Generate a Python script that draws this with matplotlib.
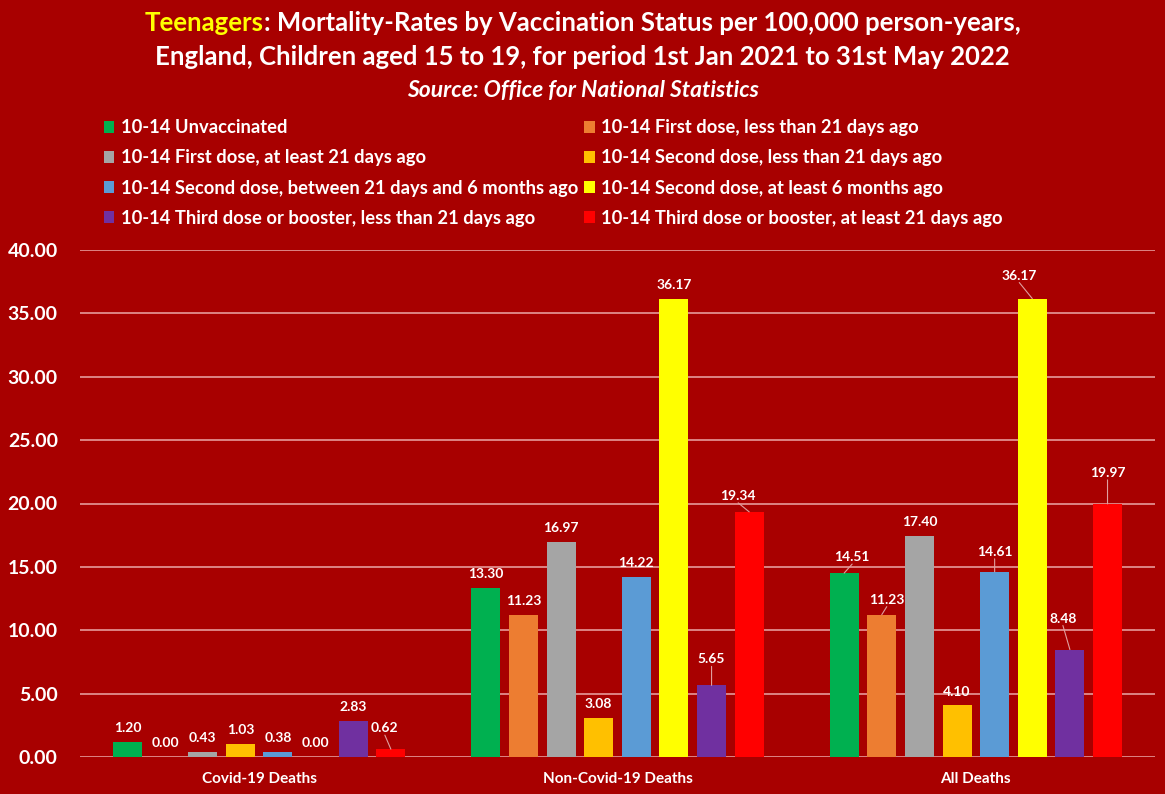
import matplotlib
matplotlib.use("Agg")
import matplotlib.pyplot as plt
import numpy as np

categories = ["Covid-19 Deaths", "Non-Covid-19 Deaths", "All Deaths"]
series_names = [
    "10-14 Unvaccinated",
    "10-14 First dose, less than 21 days ago",
    "10-14 First dose, at least 21 days ago",
    "10-14 Second dose, less than 21 days ago",
    "10-14 Second dose, between 21 days and 6 months ago",
    "10-14 Second dose, at least 6 months ago",
    "10-14 Third dose or booster, less than 21 days ago",
    "10-14 Third dose or booster, at least 21 days ago",
]
unvaccinated = [1.20, 13.30, 14.51]
first_lt21 = [0.00, 11.23, 11.23]
first_ge21 = [0.43, 16.97, 17.40]
second_lt21 = [1.03, 3.08, 4.10]
second_21d_6m = [0.38, 14.22, 14.61]
second_ge6m = [0.00, 36.17, 36.17]
third_lt21 = [2.83, 5.65, 8.48]
third_ge21 = [0.62, 19.34, 19.97]
series_values = [unvaccinated, first_lt21, first_ge21, second_lt21,
                 second_21d_6m, second_ge6m, third_lt21, third_ge21]
colors = ["#00B050", "#ED7D31", "#A5A5A5", "#FFC000",
          "#5B9BD5", "#FFFF00", "#7030A0", "#FF0000"]
yticks = [0, 5, 10, 15, 20, 25, 30, 35, 40]

# label offsets in pixels (dx, dy, leader)
label_offsets = [
    [(0, 14, False), (0, 14, False), (8, 16, True)],
    [(0, 14, False), (0, 14, False), (5, 15, True)],
    [(0, 14, False), (0, 14, False), (0, 14, False)],
    [(0, 14, False), (0, 14, False), (0, 13, False)],
    [(0, 14, False), (0, 14, False), (0, 20, True)],
    [(0, 14, False), (0, 14, False), (-13, 23, True)],
    [(0, 14, False), (0, 26, True), (-7, 31, True)],
    [(-6, 21, True), (-11, 16, True), (0, 31, True)],
]

BG = "#A80000"
FONT = ["Lato", "DejaVu Sans"]
plt.rcParams["font.family"] = FONT

fig = plt.figure(figsize=(11.65, 7.94), dpi=100, facecolor=BG)
ax = fig.add_axes([80/1165, 1-757/794, 1075/1165, (757-250)/794])
ax.set_facecolor(BG)

x = np.arange(len(categories))
spacing = 0.105
width = 0.081
handles = []
for i, (name, vals, c) in enumerate(zip(series_names, series_values, colors)):
    xs = x + (i - 3.5) * spacing
    b = ax.bar(xs, vals, width=width, color=c, label=name, zorder=3)
    handles.append(b)
    for j, (xx, v) in enumerate(zip(xs, vals)):
        dx, dy, leader = label_offsets[i][j]
        ax.annotate(f"{v:.2f}", xy=(xx, v), xytext=(dx, dy),
                    textcoords="offset pixels", ha="center", va="center",
                    color="white", fontsize=10, fontweight="bold", zorder=5)
        if leader:
            ax.annotate("", xy=(xx, v), xytext=(dx, dy - 7),
                        textcoords="offset pixels",
                        arrowprops=dict(arrowstyle="-", color="#E0A0A0", lw=0.8,
                                        shrinkA=0, shrinkB=0), zorder=4)

ax.set_xlim(-0.5, 2.5)
ax.set_ylim(0, 40)
ax.set_yticks(yticks)
ax.set_yticklabels([f"{t:.2f}" for t in yticks], color="white",
                   fontsize=14, fontweight="bold")
ax.set_xticks(x)
ax.set_xticklabels(categories, color="white", fontsize=11, fontweight="bold")
ax.tick_params(axis="both", length=0)
ax.tick_params(axis="y", pad=16)
ax.tick_params(axis="x", pad=11)
ax.grid(axis="y", color="#E69A9A", lw=1.2, zorder=0)
for s in ax.spines.values():
    s.set_visible(False)

# legend: two columns, row-wise order
order = [0, 2, 4, 6, 1, 3, 5, 7]
leg = fig.legend([handles[k] for k in order], [series_names[k] for k in order],
                 ncol=2, loc="upper left", bbox_to_anchor=(95/1165, 1-110/794),
                 frameon=False, labelcolor="white",
                 prop={"weight": "bold", "size": 13.2, "family": FONT},
                 handlelength=0.55, handleheight=0.6, handletextpad=0.35,
                 columnspacing=0.35, labelspacing=0.72, borderpad=0)

# title
fig.canvas.draw()
r = fig.canvas.get_renderer()
ty1 = 1 - 23/794
p1 = fig.text(0, ty1, "Teenagers", color="#FFFF00", fontsize=18.5,
              fontweight="bold", va="center", ha="left")
p2 = fig.text(0, ty1, ": Mortality-Rates by Vaccination Status per 100,000 person-years,",
              color="white", fontsize=18.5, fontweight="bold", va="center", ha="left")
w1 = p1.get_window_extent(r).width
w2 = p2.get_window_extent(r).width
start = (1165/2 - (w1 + w2)/2)
p1.set_x(start/1165)
p2.set_x((start + w1)/1165)
fig.text(0.5, 1 - 57/794, "England, Children aged 15 to 19, for period 1st Jan 2021 to 31st May 2022",
         color="white", fontsize=18.5, fontweight="bold", va="center", ha="center")
fig.text(0.5, 1 - 90/794, "Source: Office for National Statistics",
         color="white", fontsize=16.5, fontweight="bold", fontstyle="italic",
         va="center", ha="center")

fig.savefig("out.png", dpi=100, facecolor=BG)
